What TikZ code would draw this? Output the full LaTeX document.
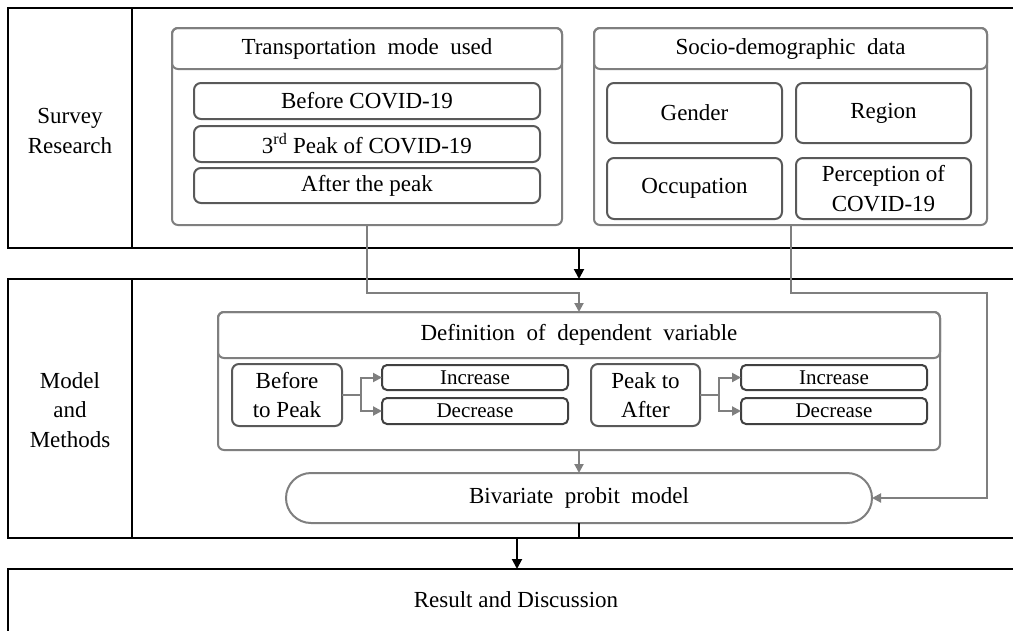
\documentclass[tikz,border=0pt]{standalone}
\usepackage{fontspec}
\setmainfont{Liberation Serif}
\usetikzlibrary{arrows.meta,calc}
\definecolor{boxgray}{HTML}{7F7F7F}
\definecolor{itemgray}{HTML}{595959}
\definecolor{smallgray}{HTML}{404040}
\begin{document}
\begin{tikzpicture}[x=1pt,y=-1pt,
  every node/.style={inner sep=0pt,outer sep=0pt,align=center,font=\fontsize{23}{29.5}\selectfont},
  section/.style={draw=black,line width=2pt,rectangle},
  container/.style={draw=boxgray,line width=2pt,rounded corners=6pt},
  header/.style={draw=boxgray,line width=2pt,rounded corners=6pt},
  item/.style={draw=itemgray,line width=2pt,rounded corners=7pt},
  small/.style={draw=smallgray,line width=2pt,rounded corners=5pt,font=\fontsize{21}{25}\selectfont},
  gline/.style={draw=boxgray,line width=2pt},
  garrow/.style={gline,-{Triangle[length=9pt,width=9pt]}},
  barrow/.style={draw=black,line width=2pt,-{Triangle[length=10pt,width=10pt]}}
]
\useasboundingbox (0,0) rectangle (1013,630);
\fill[white] (0,0) rectangle (1013,630);

% sections
\node[section,minimum width=1022pt,minimum height=240pt] (sec1) at (519,128) {};
\node[section,minimum width=1022pt,minimum height=259pt] (sec2) at (519,408.5) {};
\node[section,minimum width=1022pt,minimum height=120pt] (sec3) at (519,629) {};
\draw[line width=2pt] (132,8) -- (132,248);
\draw[line width=2pt] (132,279) -- (132,538);
\node (lab1) at (70,131) {Survey\\Research};
\node (lab2) at (70,410) {Model\\and\\Methods};
\node (lab3) at (516,600) {Result and Discussion};

% transportation
\node[container,minimum width=390pt,minimum height=197pt] (trans) at (367,126.5) {};
\node[header,minimum width=390pt,minimum height=41pt] (transh) at (367,48.5) {Transportation\ \ mode\ \ used};
\node[item,minimum width=346pt,minimum height=36pt] (before) at (367,101) {Before COVID-19};
\node[item,minimum width=346pt,minimum height=36pt] (peak) at (367,144) {3\textsuperscript{rd} Peak of COVID-19};
\node[item,minimum width=346pt,minimum height=35pt] (after) at (367,185.5) {After the peak};

% socio
\node[container,minimum width=393pt,minimum height=197pt] (socio) at (790.5,126.5) {};
\node[header,minimum width=393pt,minimum height=41pt] (socioh) at (790.5,48.5) {Socio-demographic\ \ data};
\node[item,minimum width=175pt,minimum height=60pt] (gender) at (694.5,113) {Gender};
\node[item,minimum width=175pt,minimum height=60pt] (region) at (883.5,113) {Region};
\node[item,minimum width=175pt,minimum height=61pt] (occ) at (694.5,188.5) {Occupation};
\node[item,minimum width=175pt,minimum height=61pt] (perc) at (883.5,188.5) {Perception of\\COVID-19};

% definition
\node[container,minimum width=722pt,minimum height=138pt] (def) at (579,381) {};
\node[header,minimum width=722pt,minimum height=46pt] (defh) at (579,335) {Definition\ \ of\ \ dependent\ \ variable};
\node[item,minimum width=110pt,minimum height=62pt] (btp) at (287,395) {Before\\to Peak};
\node[small,minimum width=186pt,minimum height=25pt] (incl) at (475,377.5) {Increase};
\node[small,minimum width=186pt,minimum height=26pt] (decl) at (475,411) {Decrease};
\node[item,minimum width=109pt,minimum height=62pt] (pta) at (645.5,395) {Peak to\\After};
\node[small,minimum width=186pt,minimum height=25pt] (incr) at (834,377.5) {Increase};
\node[small,minimum width=186pt,minimum height=26pt] (decr) at (834,411) {Decrease};

% bivariate
\node[container,rounded corners=25pt,minimum width=586pt,minimum height=50pt] (bpm) at (579,498) {Bivariate\ \ probit\ \ model};

% branch connectors
\coordinate (bl) at (361,395);
\coordinate (br) at (719,395);
\draw[gline] (btp.east) -- (bl);
\draw[garrow] (bl) |- (incl.west);
\draw[garrow] (bl) |- (decl.west);
\draw[gline] (pta.east) -- (br);
\draw[garrow] (br) |- (incr.west);
\draw[garrow] (br) |- (decr.west);

% gray flow connectors
\coordinate (j1) at (368,293);
\coordinate (j2) at (987,293);
\draw[garrow] (trans.south) -- (trans.south |- j1) -| (def.north);
\draw[garrow] (socio.south) -- (socio.south |- j2) -- (j2) |- (bpm.east);
\draw[garrow] (def.south) -- (bpm.north);

% black connectors
\draw[barrow] (sec1.south -| bpm) -- (sec2.north -| bpm);
\coordinate (rd) at (517,538);
\draw[line width=2pt] (bpm.south) -- (bpm.south |- sec2.south);
\draw[barrow] (rd) -- (rd |- sec3.north);
\end{tikzpicture}
\end{document}
